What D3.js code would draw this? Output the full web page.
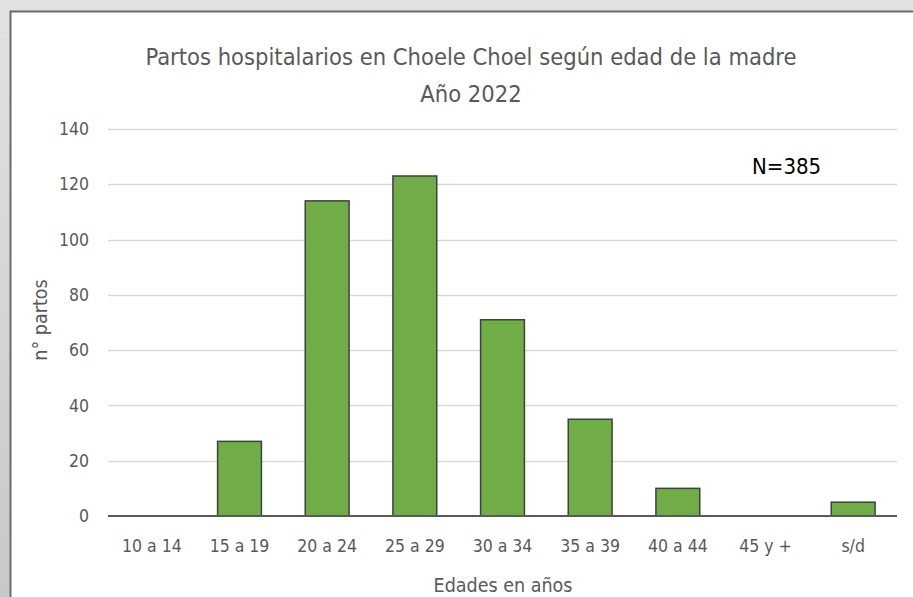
<!DOCTYPE html>
<html>
<head>
<meta charset="utf-8">
<script src="https://cdn.jsdelivr.net/npm/d3@7"></script>
<style>
  html, body { margin: 0; padding: 0; background: #d4d4d4; }
  svg { display: block; }
  text { font-family: 'DejaVu Sans Condensed', 'DejaVu Sans', sans-serif; font-stretch: condensed; }
</style>
</head>
<body>
<div id="chart"></div>
<script>
// data
const categories = ['10 a 14', '15 a 19', '20 a 24', '25 a 29', '30 a 34', '35 a 39', '40 a 44', '45 y +', 's/d'];
const partos = [0, 27, 114, 123, 71, 35, 10, 0, 5];
const yTicks = [0, 20, 40, 60, 80, 100, 120, 140];
const titleLines = ['Partos hospitalarios en Choele Choel según edad de la madre', 'Año 2022'];

const W = 913, H = 597;
const FONT = "'DejaVu Sans Condensed', 'DejaVu Sans', sans-serif";
const svg = d3.select('#chart').append('svg').attr('width', W).attr('height', H);

// outer shadow + frame
const defs = svg.append('defs');
const grad = defs.append('linearGradient').attr('id', 'bg').attr('x1', 0).attr('y1', 0).attr('x2', 0).attr('y2', 1);
grad.append('stop').attr('offset', 0).attr('stop-color', '#e2e2e2');
grad.append('stop').attr('offset', 1).attr('stop-color', '#c8c8c8');
svg.append('rect').attr('width', W).attr('height', H).attr('fill', 'url(#bg)');
svg.append('rect').attr('x', 10.5).attr('y', 11.5).attr('width', W + 10).attr('height', H + 10)
     .attr('fill', '#fff').attr('stroke', '#6b6b6b').attr('stroke-width', 2);

const m = { left: 108, right: 16, top: 129, bottom: 81 };
const x = d3.scaleBand().domain(categories).range([m.left, W - m.right]).paddingInner(0.5).paddingOuter(0.25);
const y = d3.scaleLinear().domain([0, 140]).range([H - m.bottom, m.top]);

// grid
svg.append('g').selectAll('line').data(yTicks.filter(t => t > 0)).join('line')
     .attr('x1', m.left).attr('x2', W - m.right)
     .attr('y1', d => Math.round(y(d)) + 0.5).attr('y2', d => Math.round(y(d)) + 0.5)
     .attr('stroke', '#d9d9d9').attr('stroke-width', 1.5);

// y axis labels
const yAxis = svg.append('g').attr('transform', `translate(${m.left},0)`)
     .call(d3.axisLeft(y).tickValues(yTicks).tickSize(0).tickPadding(19));
yAxis.select('.domain').remove();
yAxis.selectAll('text').attr('font-size', 17.5).attr('fill', '#595959').attr('font-family', FONT);

// bars
svg.append('g').selectAll('rect').data(partos).join('rect')
     .attr('x', (d, i) => x(categories[i]))
     .attr('y', d => y(d))
     .attr('width', x.bandwidth())
     .attr('height', d => y(0) - y(d))
     .attr('fill', d => d > 0 ? '#70ad47' : 'none')
     .attr('stroke', d => d > 0 ? '#404040' : 'none')
     .attr('stroke-width', 1.5);

// x axis
const xAxis = svg.append('g').attr('transform', `translate(0,${y(0)})`)
     .call(d3.axisBottom(x).tickSize(0).tickPadding(24));
xAxis.select('.domain').attr('stroke', '#595959').attr('stroke-width', 2)
     .attr('d', `M${m.left},0H${W - m.right}`);
xAxis.selectAll('text').attr('font-size', 17.5).attr('fill', '#595959').attr('font-family', FONT);

// titles
svg.append('text').attr('x', 471).attr('y', 65).attr('text-anchor', 'middle')
     .attr('font-size', 23.5).attr('fill', '#595959').text(titleLines[0]);
svg.append('text').attr('x', 471).attr('y', 102).attr('text-anchor', 'middle')
     .attr('font-size', 23.5).attr('fill', '#595959').text(titleLines[1]);

// N label
svg.append('text').attr('x', 752).attr('y', 174)
     .attr('font-size', 22).attr('fill', '#000').text('N=' + d3.sum(partos));

// axis titles
svg.append('text').attr('transform', 'translate(47,320) rotate(-90)').attr('text-anchor', 'middle')
     .attr('font-size', 19.5).attr('fill', '#595959').text('n° partos');
svg.append('text').attr('x', 503).attr('y', 592).attr('text-anchor', 'middle')
     .attr('font-size', 19.5).attr('fill', '#595959').text('Edades en años');
</script>
</body>
</html>
